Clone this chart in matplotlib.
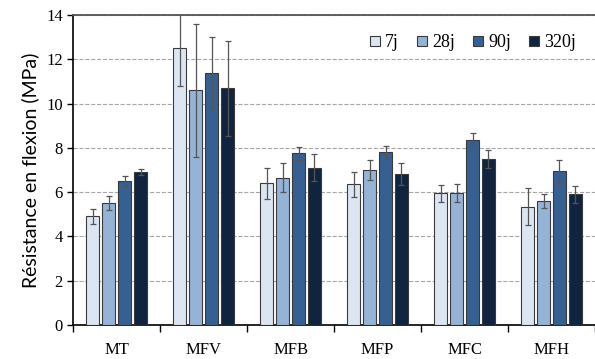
import numpy as np
import matplotlib
matplotlib.use('Agg')
import matplotlib.pyplot as plt

# Flexural strength by mix and curing age
mixes = ['MT', 'MFV', 'MFB', 'MFP', 'MFC', 'MFH']
ages = ['7j', '28j', '90j', '320j']
val_7j = [4.9, 12.5, 6.4, 6.35, 5.95, 5.35]
val_28j = [5.5, 10.6, 6.65, 7.0, 5.95, 5.6]
val_90j = [6.5, 11.4, 7.75, 7.8, 8.35, 6.95]
val_320j = [6.9, 10.7, 7.1, 6.8, 7.5, 5.9]
err_7j = [0.35, 1.7, 0.7, 0.55, 0.38, 0.85]
err_28j = [0.33, 3.0, 0.65, 0.45, 0.4, 0.3]
err_90j = [0.23, 1.6, 0.3, 0.3, 0.3, 0.5]
err_320j = [0.13, 2.15, 0.6, 0.5, 0.4, 0.38]

values = [val_7j, val_28j, val_90j, val_320j]
errors = [err_7j, err_28j, err_90j, err_320j]
colors = ['#dce6f2', '#95b3d7', '#376092', '#10243f']

plt.rcParams['font.family'] = ['Liberation Serif', 'DejaVu Serif']

fig = plt.figure(figsize=(5.95, 3.59), dpi=100)
ax = fig.add_axes([0.123, 0.095, 0.877, 0.863])

x = np.arange(len(mixes))
step = 0.183
width = 0.15
for i in range(4):
    ax.bar(x + (i - 1.5) * step, values[i], width, color=colors[i],
           edgecolor='#3a3a3a', linewidth=0.8, label=ages[i], zorder=3,
           yerr=errors[i], error_kw=dict(ecolor='#555555', elinewidth=0.9,
                                         capsize=2.5, capthick=0.9))

ax.set_ylim(0, 14)
ax.set_xlim(-0.5, len(mixes) - 0.5)
ax.set_yticks(range(0, 15, 2))
ax.set_xticks(x)
ax.set_xticklabels(mixes, fontsize=12)
ax.set_xticks(np.arange(-0.5, len(mixes) + 0.5, 1), minor=True)
ax.tick_params(axis='x', which='major', length=0, pad=12)
ax.tick_params(axis='x', which='minor', length=5, width=1)
ax.tick_params(axis='y', labelsize=12, length=4, width=1)
ax.set_ylabel('Résistance en flexion (MPa)', fontsize=14,
              family=['Lato', 'DejaVu Sans'], labelpad=5)

ax.yaxis.grid(True, linestyle='--', color='#a6a6a6', linewidth=0.8, zorder=0)
ax.spines['right'].set_visible(False)
ax.spines['top'].set_color('#555555')
ax.spines['top'].set_linewidth(1.3)
ax.spines['left'].set_linewidth(1.2)
ax.spines['bottom'].set_linewidth(1.2)

leg = ax.legend(loc='upper right', ncol=4, frameon=False, fontsize=13,
                handlelength=0.55, handleheight=0.55, handletextpad=0.3,
                columnspacing=1.0, bbox_to_anchor=(0.995, 0.99))

fig.savefig('out.png', dpi=100)
